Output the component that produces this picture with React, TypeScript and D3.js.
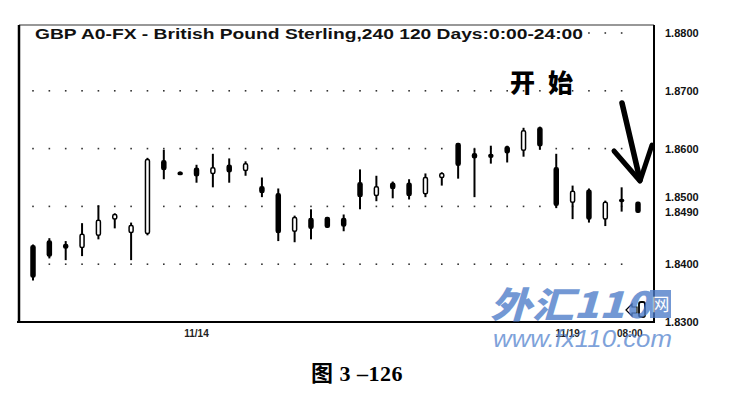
import * as d3 from "d3";

// 4-hour GBP candles
const opens = [
  1.8432, 1.844, 1.8434, 1.8429, 1.845, 1.8478, 1.8455, 1.8453, 1.8579, 1.8559,
  1.8566, 1.8557, 1.8571, 1.8562, 1.8534, 1.8522, 1.8457, 1.8479, 1.8481, 1.8479,
  1.8541, 1.8519, 1.854, 1.854, 1.8522, 1.855, 1.8609, 1.8591, 1.859, 1.8603,
  1.8597, 1.8636, 1.8567, 1.8507, 1.8528, 1.8478, 1.8512, 1.8507,
];
const highs = [
  1.8434, 1.8445, 1.844, 1.8471, 1.8502, 1.8488, 1.8472, 1.8584, 1.8598, 1.856,
  1.8572, 1.8591, 1.8583, 1.8578, 1.855, 1.8531, 1.8484, 1.8495, 1.8481, 1.8486,
  1.8564, 1.8553, 1.8543, 1.8547, 1.8557, 1.8559, 1.8609, 1.86, 1.8605, 1.8605,
  1.8636, 1.8638, 1.8591, 1.8536, 1.8531, 1.851, 1.8533, 1.8507,
];
const lows = [
  1.8372, 1.841, 1.8407, 1.8414, 1.8443, 1.8462, 1.8407, 1.845, 1.8547, 1.8555,
  1.8541, 1.8533, 1.8541, 1.8553, 1.8516, 1.844, 1.8438, 1.8443, 1.8464, 1.8457,
  1.8495, 1.8509, 1.8514, 1.8512, 1.8516, 1.8536, 1.8548, 1.8516, 1.8574, 1.8576,
  1.8586, 1.8598, 1.8497, 1.8478, 1.8472, 1.8466, 1.8491, 1.849,
];
const closes = [
  1.8378, 1.8414, 1.8428, 1.8452, 1.8476, 1.8486, 1.8467, 1.8581, 1.8564, 1.8555,
  1.8553, 1.8567, 1.856, 1.8574, 1.8524, 1.8455, 1.8481, 1.8462, 1.8464, 1.8466,
  1.8517, 1.8534, 1.8531, 1.8519, 1.855, 1.8557, 1.8571, 1.8584, 1.8585, 1.8593,
  1.8631, 1.8605, 1.8502, 1.8526, 1.8478, 1.8507, 1.8509, 1.849,
];

const priceTicks = [1.88, 1.87, 1.86, 1.85, 1.84, 1.83];
const gridTicks = [1.88, 1.87, 1.86, 1.85, 1.84];
const timeLabels = ["11/14", "11/19", "08:00"];
const timeLabelBars = [10, 32.7, 36.5];

const title = "GBP A0-FX - British Pound Sterling,240   120 Days:0:00-24:00";
const note = "开始";
const caption = "图 3 –126";

const W = 732;
const H = 401;
const frame = { left: 19, right: 654, top: 25, bottom: 322 };

export default function App() {
  const n = closes.length;
  const x = d3.scaleLinear().domain([0, n - 1]).range([33, 638]);
  const y = d3.scaleLinear().domain([1.83, 1.88]).range([322, 33]);
  const bodyW = 4;

  const last = closes[n - 1];
  const lastY = y(last);
  const fmt = d3.format(".4f");

  const bars = d3.range(n).map((i) => ({
    i,
    o: opens[i],
    h: highs[i],
    l: lows[i],
    c: closes[i],
    up: closes[i] > opens[i],
  }));

  return (
    <svg
      width={W}
      height={H}
      style={{ position: "absolute", left: 0, top: 0, background: "#fff" }}
      fontFamily="'Liberation Sans', Arial, sans-serif"
    >
      <rect width={W} height={H} fill="#fff" />

      {/* dotted grid */}
      {gridTicks.map((t) => (
        <g key={t}>
          {d3.range(n - 1).map((i) => (
            <rect key={i} x={x(i) - 0.8} y={y(t) - 0.8} width={1.6} height={1.6} fill="#333" />
          ))}
        </g>
      ))}

      {/* title */}
      <rect x={32} y={27} width={556} height={15} fill="#fff" />
      <text
        x={35}
        y={39}
        fontSize={14}
        fontWeight="bold"
        fill="#111"
        textLength={548}
        lengthAdjust="spacingAndGlyphs"
      >
        {title}
      </text>

      {/* candles */}
      {bars.map((b) => {
        const top = y(Math.max(b.o, b.c));
        const bot = y(Math.min(b.o, b.c));
        const bh = Math.max(2, bot - top);
        return (
          <g key={b.i}>
            <line x1={x(b.i)} x2={x(b.i)} y1={y(b.h)} y2={y(b.l)} stroke="#000" strokeWidth={2} />
            <rect
              x={x(b.i) - bodyW / 2}
              y={top}
              width={bodyW}
              height={bh}
              rx={1.5}
              fill={b.up ? "#fff" : "#000"}
              stroke="#000"
              strokeWidth={1.5}
            />
          </g>
        );
      })}

      {/* frame */}
      <line x1={frame.left} x2={frame.right} y1={frame.top} y2={frame.top} stroke="#333" strokeWidth={1.2} />
      <line x1={frame.left} x2={frame.left} y1={frame.top} y2={frame.bottom} stroke="#000" strokeWidth={2.5} />
      <line x1={frame.right} x2={frame.right} y1={frame.top} y2={frame.bottom} stroke="#000" strokeWidth={2} />
      <line x1={frame.left - 2} x2={frame.right + 1} y1={frame.bottom} y2={frame.bottom} stroke="#000" strokeWidth={2.2} />

      {/* price axis */}
      {priceTicks.map((t) => {
        let ty = y(t);
        if (Math.abs(ty - lastY) < 12) ty = lastY - 15;
        return (
          <text key={t} x={665} y={ty + 4} fontSize={11} fontWeight="bold" fill="#111">
            {fmt(t)}
          </text>
        );
      })}
      <text x={665} y={lastY + 4} fontSize={11} fontWeight="bold" fill="#111">
        {fmt(last)}
      </text>

      {/* time axis */}
      {timeLabels.map((s, k) => (
        <text
          key={s}
          x={x(timeLabelBars[k])}
          y={337}
          fontSize={10}
          fontWeight="bold"
          textAnchor="middle"
          fill="#222"
        >
          {s}
        </text>
      ))}

      {/* annotation */}
      <text
        x={510}
        y={92}
        fontSize={25}
        fontWeight={900}
        letterSpacing={13}
        fontFamily="'Noto Sans CJK SC', sans-serif"
        fill="#000"
      >
        {note}
      </text>
      <g stroke="#000" strokeLinecap="round" fill="none">
        <path d="M622,103 L640,180" strokeWidth={5.5} />
        <path d="M614,151 L640,181 L652,145" strokeWidth={5} strokeLinejoin="round" />
      </g>

      {/* scroll icon */}
      <g stroke="#000" strokeWidth={1.2} fill="#fff">
        <path d="M626,310 L632,304 L632,307 L637,307 L637,313 L632,313 L632,316 Z" />
        <rect x={639} y={302} width={6} height={15} rx={2} strokeWidth={1.8} />
      </g>

      {/* watermark */}
      <g opacity={0.78}>
        <text
          x={490}
          y={318}
          fontSize={36}
          fontWeight={900}
          fontStyle="italic"
          fill="#4d7cc9"
          fontFamily="'Noto Sans CJK SC', sans-serif"
          textLength={160}
          lengthAdjust="spacingAndGlyphs"
        >
          外汇110
        </text>
        <rect x={650} y={290} width={21} height={28} fill="#4d7cc9" />
        <text x={660.5} y={311} fontSize={18} fill="#fff" textAnchor="middle" fontFamily="'Noto Sans CJK SC', sans-serif">
          网
        </text>
        <text
          x={493}
          y={347}
          fontSize={23}
          fontStyle="italic"
          fill="#5b88d0"
          textLength={179}
          lengthAdjust="spacingAndGlyphs"
        >
          www.fx110.com
        </text>
      </g>

      {/* caption */}
      <text
        x={357}
        y={381}
        fontSize={22}
        fontWeight="bold"
        textAnchor="middle"
        fill="#000"
        letterSpacing={0.5}
        fontFamily="'Liberation Serif', 'Noto Sans CJK SC', serif"
      >
        {caption}
      </text>
    </svg>
  );
}
